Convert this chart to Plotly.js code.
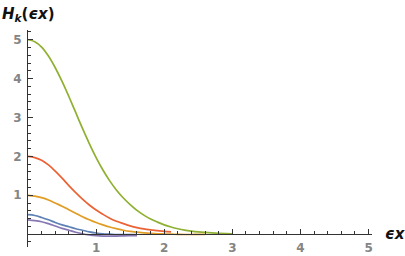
<!DOCTYPE html>
<html>
<head>
<meta charset="utf-8">
<script src="https://cdn.plot.ly/plotly-3.0.1.min.js"></script>
<style>html,body{margin:0;padding:0;background:#fff;}#chart{width:405px;height:256px;}</style>
</head>
<body>
<div id="chart"></div>
<script>
// x samples for each curve
const xGreen = [0,0.1,0.2,0.3,0.4,0.5,0.6,0.7,0.8,0.9,1.0,1.1,1.2,1.3,1.4,1.5,1.6,1.7,1.8,1.9,2.0,2.1,2.2,2.3,2.4,2.5,2.6,2.7,2.8,2.9,3.0];
const yGreen = [5.00,4.95,4.81,4.58,4.28,3.93,3.54,3.13,2.72,2.33,1.97,1.65,1.37,1.13,0.93,0.76,0.61,0.49,0.39,0.31,0.24,0.185,0.14,0.105,0.08,0.06,0.045,0.032,0.022,0.015,0.01];

const xRed = [0,0.1,0.2,0.3,0.4,0.5,0.6,0.7,0.8,0.9,1.0,1.1,1.2,1.3,1.4,1.5,1.6,1.7,1.8,1.9,2.0,2.1];
const yRed = [2.00,1.97,1.90,1.78,1.62,1.44,1.25,1.07,0.90,0.75,0.62,0.51,0.41,0.33,0.27,0.215,0.17,0.135,0.11,0.09,0.07,0.06];

const xOrange = [0,0.1,0.2,0.3,0.4,0.5,0.6,0.7,0.8,0.9,1.0,1.1,1.2,1.3,1.4,1.5,1.6,1.7,1.8,1.9,2.0,2.1,2.2,2.3,2.4,2.5,2.6];
const yOrange = [1.00,0.98,0.94,0.88,0.80,0.72,0.63,0.54,0.45,0.37,0.30,0.24,0.185,0.14,0.10,0.07,0.05,0.033,0.02,0.01,0.004,0.0,-0.005,-0.008,-0.008,-0.006,-0.005];

const xBlue = [0,0.1,0.2,0.3,0.4,0.5,0.6,0.7,0.8,0.9,1.0,1.1,1.2,1.3,1.4,1.5,1.6];
const yBlue = [0.50,0.48,0.43,0.37,0.30,0.24,0.19,0.14,0.10,0.06,0.03,0.01,0.0,-0.01,-0.01,-0.01,-0.01];

const xPurple = [0,0.1,0.2,0.3,0.4,0.5,0.6,0.7,0.8,0.9,1.0,1.1,1.2,1.3,1.4,1.5,1.6];
const yPurple = [0.37,0.35,0.32,0.27,0.21,0.15,0.10,0.05,0.01,-0.02,-0.04,-0.05,-0.05,-0.05,-0.045,-0.04,-0.035];

const tickVals = [1,2,3,4,5];
const tickText = ['1','2','3','4','5'];

const series = [
  {x: xBlue, y: yBlue, color: '#5E81B5'},
  {x: xOrange, y: yOrange, color: '#E19C24'},
  {x: xGreen, y: yGreen, color: '#8FB032'},
  {x: xRed, y: yRed, color: '#EB6235'},
  {x: xPurple, y: yPurple, color: '#8778B3'}
];

const traces = series.map(s => ({
  x: s.x, y: s.y, type: 'scatter', mode: 'lines',
  line: {color: s.color, width: 1.7, shape: 'spline', smoothing: 1},
  hoverinfo: 'skip', showlegend: false
}));

const yMin = -0.33, yMax = 5.25;
const tickFont = {family: 'DejaVu Sans, sans-serif', size: 12, color: '#858585'};
const boldText = tickText.map(t => '<b>' + t + '</b>');

const layout = {
  width: 405, height: 256,
  margin: {l: 28, r: 33, t: 30, b: 9, pad: 0},
  paper_bgcolor: '#fff', plot_bgcolor: '#fff',
  showlegend: false,
  xaxis: {
    range: [0, 5.05], showgrid: false, zeroline: false,
    showline: true, linecolor: '#333', linewidth: 1,
    anchor: 'free', position: (0 - yMin) / (yMax - yMin),
    tickmode: 'array', tickvals: tickVals, ticktext: boldText,
    ticks: 'inside', ticklen: 5, tickcolor: '#333', tickwidth: 1,
    minor: {tickmode: 'linear', tick0: 0, dtick: 0.2, ticks: 'inside', ticklen: 3, tickcolor: '#333', showgrid: false},
    tickfont: tickFont, ticklabelstandoff: 2, fixedrange: true
  },
  yaxis: {
    range: [yMin, yMax], showgrid: false, zeroline: false,
    showline: true, linecolor: '#333', linewidth: 1,
    tickmode: 'array', tickvals: tickVals, ticktext: boldText,
    ticks: 'inside', ticklen: 5, tickcolor: '#333', tickwidth: 1,
    minor: {tickmode: 'linear', tick0: 0, dtick: 0.2, ticks: 'inside', ticklen: 3, tickcolor: '#333', showgrid: false},
    tickfont: tickFont, ticklabelstandoff: 3, fixedrange: true
  },
  annotations: [
    {xref: 'paper', yref: 'paper', x: -28/344, y: 1 + 16/217, xanchor: 'left', yanchor: 'middle',
     text: '<b><i>H<sub>k</sub></i>(<i>ϵx</i>)</b>', showarrow: false,
     font: {family: 'DejaVu Sans, sans-serif', size: 15, color: '#111'}},
    {xref: 'paper', yref: 'paper', x: 1 + 11/344, y: (0 - yMin) / (yMax - yMin), xanchor: 'left', yanchor: 'middle',
     text: '<b><i>ϵx</i></b>', showarrow: false,
     font: {family: 'DejaVu Sans, sans-serif', size: 15, color: '#111'}}
  ]
};

Plotly.newPlot('chart', traces, layout, {displayModeBar: false, staticPlot: true});
</script>
</body>
</html>
